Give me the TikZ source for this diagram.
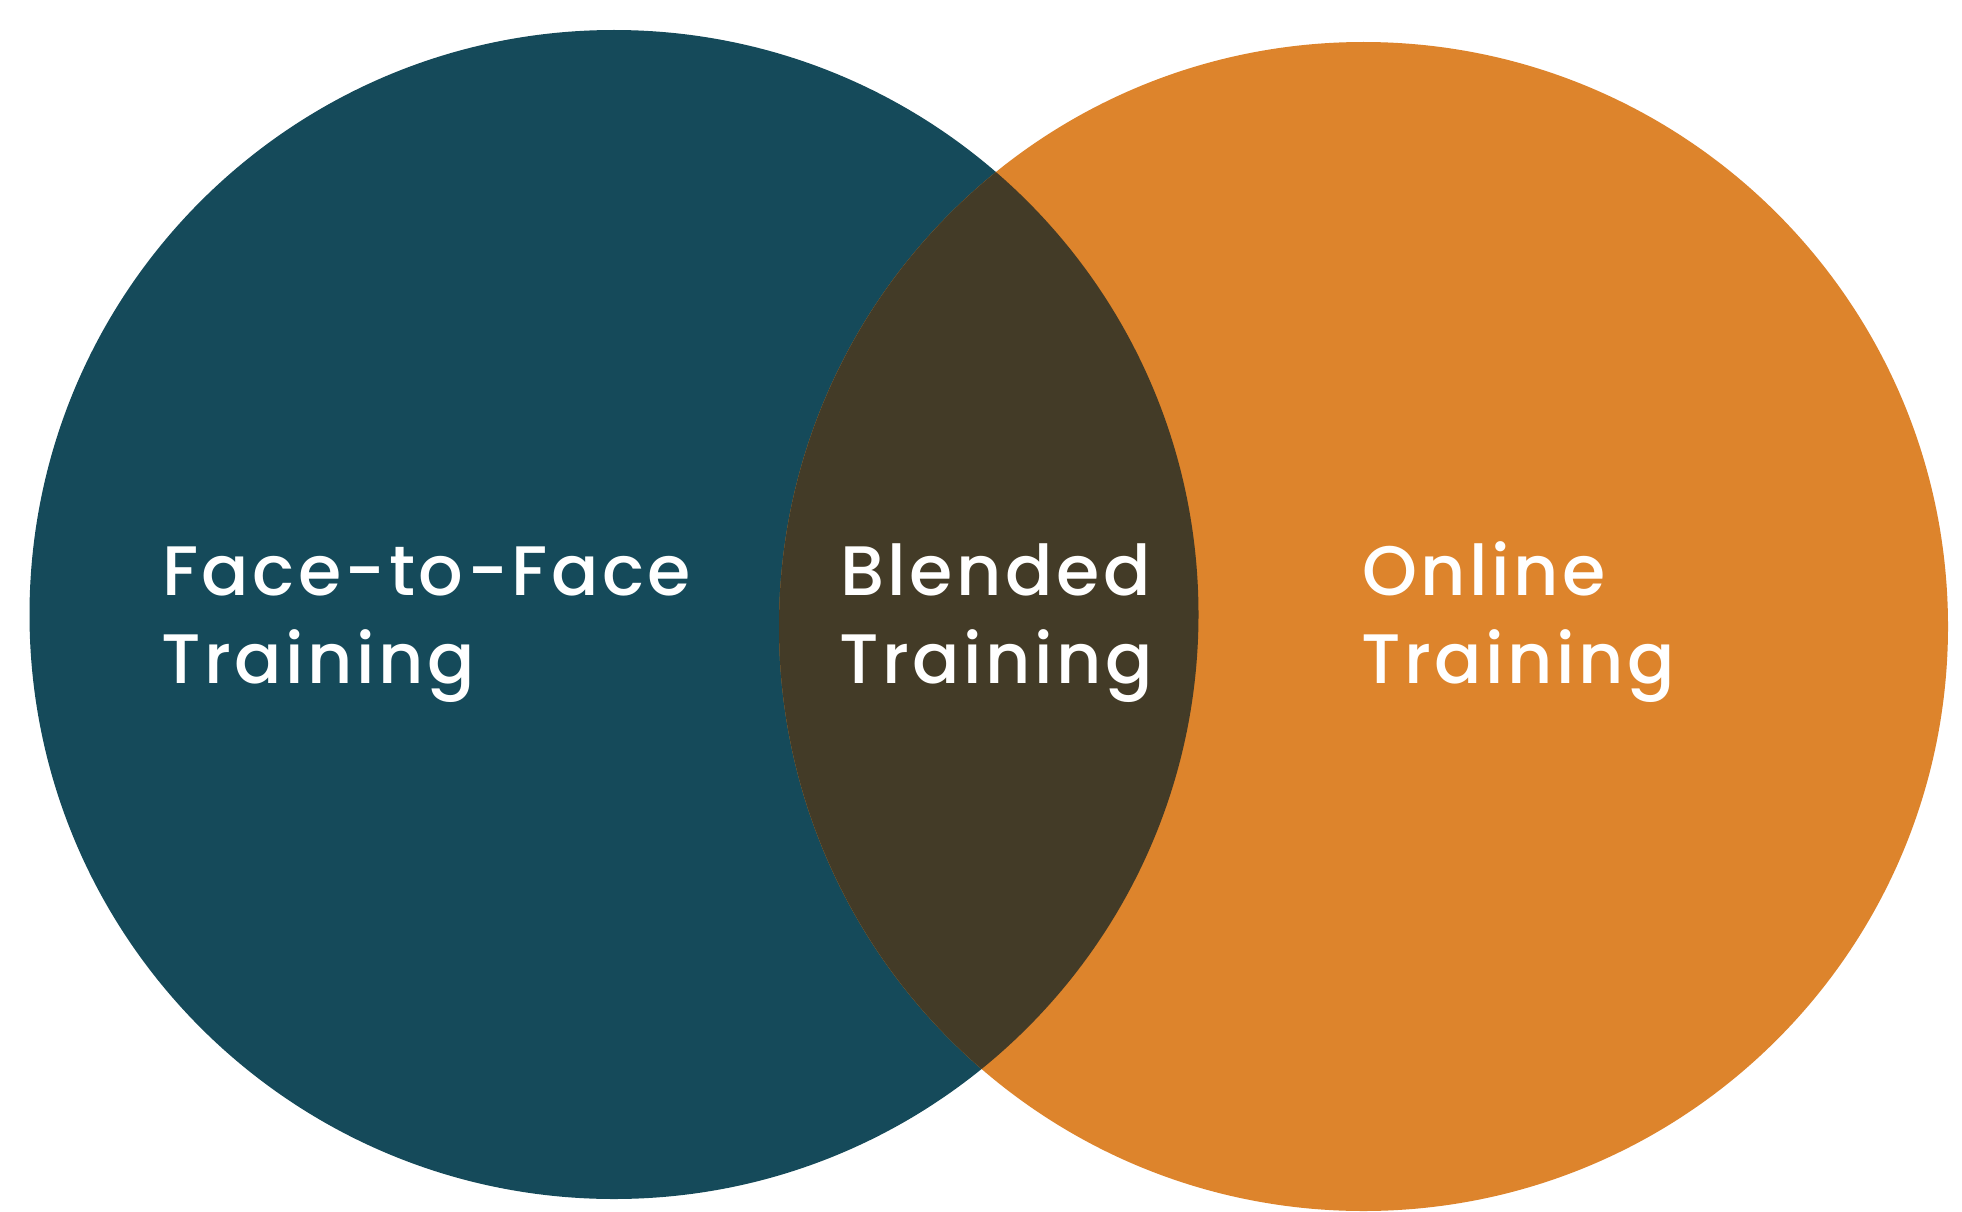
\documentclass[tikz,border=0pt]{standalone}
\usepackage{fontspec}
\newfontfamily\poppins[LetterSpace=5]{Poppins Medium}
\definecolor{tealc}{RGB}{21,74,90}
\definecolor{orangec}{RGB}{221,132,44}
\definecolor{blendc}{RGB}{67,59,39}
\tikzset{
  lbl/.style={anchor=base west, inner sep=0pt, text=white,
    font=\poppins\fontsize{70}{84}\selectfont}
}
\begin{document}
\begin{tikzpicture}[x=1pt,y=-1pt]
\useasboundingbox (0,0) rectangle (1962,1212);
\fill[white] (0,0) rectangle (1962,1212);
\coordinate (cl) at (614,614.5);
\coordinate (cr) at (1363.5,626.5);
\fill[tealc] (cl) circle[radius=584.5pt];
\fill[orangec] (cr) circle[radius=584.5pt];
\begin{scope}
  \clip (cl) circle[radius=584.5pt];
  \fill[blendc] (cr) circle[radius=584.5pt];
\end{scope}
\node[lbl] (f1) at (162,595) {Face-to-Face};
\node[lbl] (f2) at (161,683) {Training};
\node[lbl] (b1) at (840,595) {Blended};
\node[lbl] (b2) at (839,683) {Training};
\node[lbl] (o1) at (1362,595) {Online};
\node[lbl] (o2) at (1361,683) {Training};
\end{tikzpicture}
\end{document}
